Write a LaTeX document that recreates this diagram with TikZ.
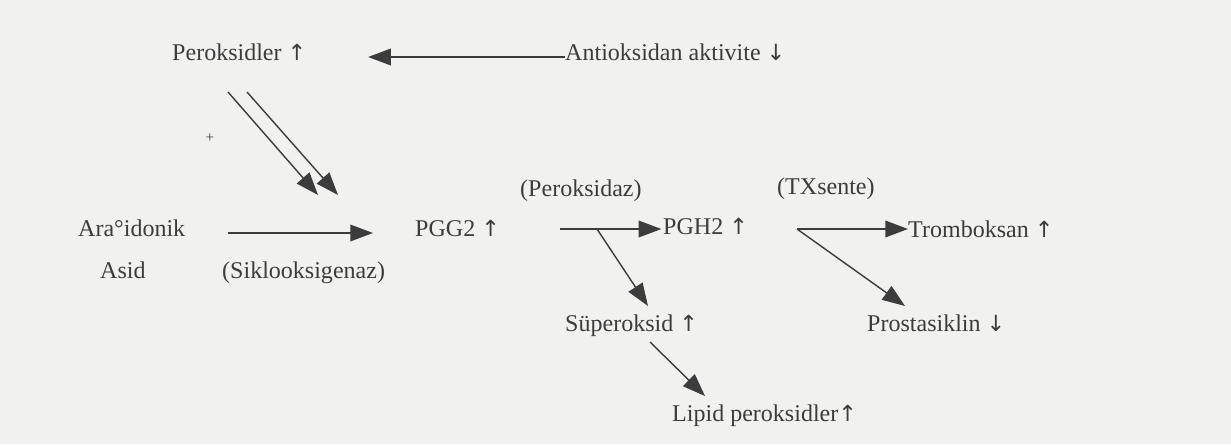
\documentclass[tikz,border=0pt]{standalone}
\usepackage{fontspec}
\setmainfont{Liberation Serif}
\newfontfamily\arrowfont{DejaVu Sans}
\usetikzlibrary{arrows.meta, calc}

\definecolor{ink}{HTML}{3C3C3C}
\definecolor{paper}{HTML}{F1F1F0}

% rise / fall marks
\newcommand{\riseup}{{\arrowfont\fontsize{19}{22}\selectfont ↑}}
\newcommand{\falldown}{{\arrowfont\fontsize{19}{22}\selectfont ↓}}

\begin{document}
\begin{tikzpicture}[x = 0.03cm, y = -0.03cm,
    every node/.style={font=\fontsize{20.5}{24}\selectfont, text=ink, inner sep=0pt,
        text height=1.5ex, text depth=0.25ex, anchor=west},
    flow/.style={draw=ink, line width=1.2pt, -{Triangle[length=0.68cm, width=0.5cm]}}]
    % Page
    \fill[paper] (0,0) rectangle (1231,444);
    \useasboundingbox (0,0) rectangle (1231,444);

    % Top row
    \node (perox) at (172,57) {Peroksidler \riseup};
    \node (antiox) at (565,57) {Antioksidan aktivite \falldown};
    \node[anchor=center, font=\fontsize{13}{15}\selectfont] (plus) at (210,139) {+};

    % Main chain
    \node (arach) at (78,233) {Ara°idonik};
    \node (asid) at (100,275) {Asid};
    \node (sikl) at (222,275) {(Siklooksigenaz)};
    \node (pgg) at (415,233) {PGG2 \riseup};
    \node (perx) at (520,193) {(Peroksidaz)};
    \node (pgh) at (663,231) {PGH2 \riseup};
    \node (txs) at (777,191) {(TXsente)};
    \node (trom) at (908,234) {Tromboksan \riseup};

    % Lower row
    \node (super) at (565,328) {Süperoksid \riseup};
    \node (prost) at (867,328) {Prostasiklin \falldown};
    \node (lipid) at (672,418) {Lipid peroksidler\riseup};

    % Branch points and free ends
    \coordinate (d1a) at (228,92);
    \coordinate (d1b) at (318,195);
    \coordinate (d2a) at (247,92);
    \coordinate (d2b) at (338,195);
    \coordinate (b1) at (597,229);
    \coordinate (b1t) at (648,306);
    \coordinate (b2) at (797,229);
    \coordinate (b2t) at (905,306);
    \coordinate (s1) at (650,342);
    \coordinate (s1t) at (705,396);

    % Arrows
    \draw[flow, shorten >=1.85cm] (antiox.west) -- (antiox.west -| perox.east);
    \draw[flow] (d1a) -- (d1b);
    \draw[flow] (d2a) -- (d2b);
    \draw[flow, shorten <=1.29cm, shorten >=1.26cm] (arach.east) -- (arach.east -| pgg.west);
    \draw[flow, shorten <=1.8cm, shorten >=0.05cm] (b1 -| pgg.east) -- (b1 -| pgh.west);
    \draw[flow] (b1) -- (b1t);
    \draw[flow] (b2) -- (b2 -| trom.west);
    \draw[flow] (b2) -- (b2t);
    \draw[flow] (s1) -- (s1t);
\end{tikzpicture}
\end{document}
